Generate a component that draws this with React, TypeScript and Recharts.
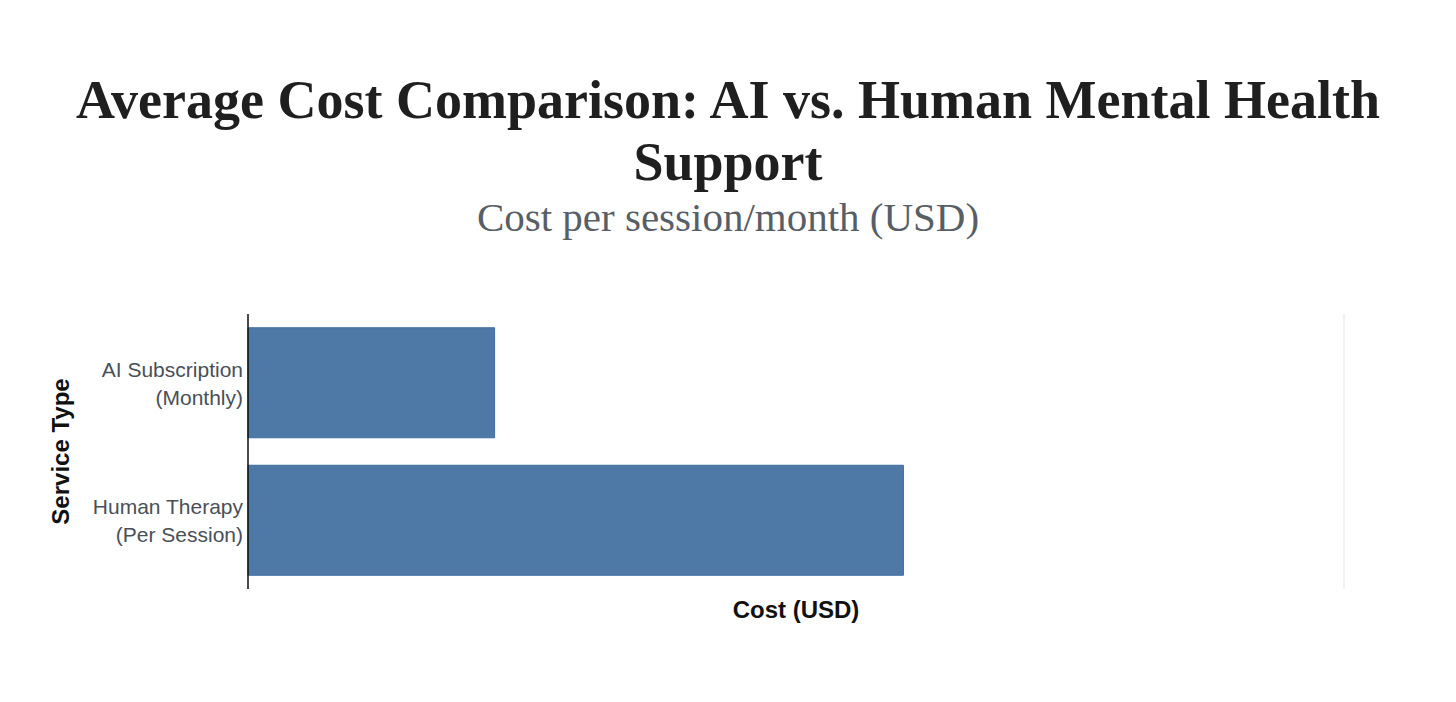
import { BarChart, Bar, XAxis, YAxis, CartesianGrid } from "recharts";

const services = ["AI Subscription (Monthly)", "Human Therapy (Per Session)"];
const costs = [45, 119.6];
const costTicks = [0, 200];

const titleLines = ["Average Cost Comparison: AI vs. Human Mental Health", "Support"];
const subtitle = "Cost per session/month (USD)";
const xTitle = "Cost (USD)";
const yTitle = "Service Type";

const chartData = services.map((name, i) => ({ name, cost: costs[i] }));

const sans = "'Liberation Sans', Arial, Helvetica, sans-serif";
const serif = "'Liberation Serif', 'Times New Roman', serif";

function ServiceTick(props: any) {
  const { x, y, payload } = props;
  const label = String(payload.value);
  const cut = label.indexOf(" (");
  const lines = cut > 0 ? [label.slice(0, cut), label.slice(cut + 1)] : [label];
  return (
    <text x={x} y={y} textAnchor="end" fill="#4a4f57" fontSize={21} fontFamily={sans}>
      {lines.map((line, k) => (
        <tspan key={k} x={x - 5} dy={k === 0 ? -6 : 28}>
          {line}
        </tspan>
      ))}
    </text>
  );
}

export default function App() {
  return (
    <div style={{ position: "absolute", left: 0, top: 0, width: 1456, height: 702, background: "#fff" }}>
      <svg width={1456} height={702} style={{ position: "absolute", left: 0, top: 0 }}>
        <text x={728} y={118} textAnchor="middle" fontFamily={serif} fontWeight={700} fontSize={54} fill="#1f1f1f">
          {titleLines[0]}
        </text>
        <text x={728} y={180} textAnchor="middle" fontFamily={serif} fontWeight={700} fontSize={54} fill="#1f1f1f">
          {titleLines[1]}
        </text>
        <text x={728} y={231} textAnchor="middle" fontFamily={serif} fontSize={41} fill="#585e66">
          {subtitle}
        </text>
      </svg>
      <div style={{ position: "absolute", left: 0, top: 0 }}>
        <BarChart
          width={1456}
          height={702}
          data={chartData}
          layout="vertical"
          barCategoryGap="10%"
          margin={{ top: 314, right: 112, bottom: 73, left: 0 }}
        >
          <CartesianGrid horizontal={false} stroke="#e3e3e3" />
          <XAxis
            type="number"
            domain={[0, 200]}
            ticks={costTicks}
            tick={false}
            tickLine={false}
            axisLine={false}
            height={40}
            label={{ value: xTitle, position: "center", fill: "#111", fontSize: 24, fontWeight: 700, fontFamily: sans }}
          />
          <YAxis
            type="category"
            dataKey="name"
            width={248}
            tickLine={false}
            tickSize={0}
            tickMargin={0}
            axisLine={{ stroke: "#111", strokeWidth: 1.5 }}
            tick={<ServiceTick />}
            label={{
              content: ({ viewBox }: any) => (
                <text
                  x={viewBox.x + 60}
                  y={viewBox.y + viewBox.height / 2}
                  transform={`rotate(-90 ${viewBox.x + 60} ${viewBox.y + viewBox.height / 2})`}
                  textAnchor="middle"
                  dominantBaseline="central"
                  fill="#111"
                  fontSize={24}
                  fontWeight={700}
                  fontFamily={sans}
                >
                  {yTitle}
                </text>
              ),
            }}
          />
          <Bar dataKey="cost" fill="#4e79a7" stroke="#3f6c9e" strokeWidth={1} isAnimationActive={false} />
        </BarChart>
      </div>
    </div>
  );
}
